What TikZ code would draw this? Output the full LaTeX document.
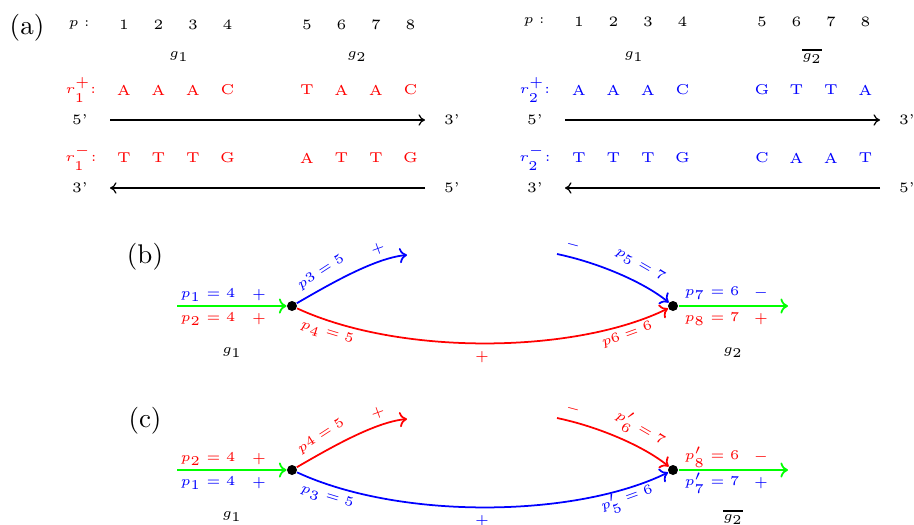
\documentclass[tikz,border=0pt]{standalone}
\usetikzlibrary{arrows.meta}
\tikzstyle{every node}=[font=\fontsize{5.3}{6}\selectfont]
\tikzstyle{strand}=[-{To[length=2.4pt,width=4.2pt]}, line width=0.45pt]
\tikzstyle{path}=[-{To[length=2.8pt,width=5.6pt]}, line width=0.65pt]
\tikzstyle{tag}=[font=\normalsize]
\tikzstyle{dot}=[circle, fill=black, inner sep=0pt, minimum size=3.7pt]

\begin{document}
\begin{tikzpicture}[x=0.3704pt, y=-0.3704pt]
    \useasboundingbox (0,0) rectangle (914,524);
% (a) read r1
    \node[tag] (ta) at (27,28) {(a)};
    \node (pa) at (79,25) {$p:$};
    \node (pa1) at (124,25) {1};
    \node (pa2) at (158.5,25) {2};
    \node (pa3) at (193,25) {3};
    \node (pa4) at (227.5,25) {4};
    \node (pa5) at (307,25) {5};
    \node (pa6) at (341.5,25) {6};
    \node (pa7) at (376,25) {7};
    \node (pa8) at (410.5,25) {8};
    \node (ga1) at (179,57) {$g_1$};
    \node (ga2) at (357,57) {$g_2$};
    \node[red] (rap) at (81,90) {$r_1^+$:};
    \node[red] (rap1) at (124,90) {A};
    \node[red] (rap2) at (158.5,90) {A};
    \node[red] (rap3) at (193,90) {A};
    \node[red] (rap4) at (227.5,90) {C};
    \node[red] (rap5) at (307,90) {T};
    \node[red] (rap6) at (341.5,90) {A};
    \node[red] (rap7) at (376,90) {A};
    \node[red] (rap8) at (410.5,90) {C};
    \node (fa1) at (80,120) {5'};
    \node (ta1) at (452,120) {3'};
    \coordinate (sa1) at (110,120);
    \coordinate (ea1) at (425,120);
    \draw[strand] (sa1) -- (ea1);
    \node[red] (ram) at (81,158) {$r_1^-$:};
    \node[red] (ram1) at (124,158) {T};
    \node[red] (ram2) at (158.5,158) {T};
    \node[red] (ram3) at (193,158) {T};
    \node[red] (ram4) at (227.5,158) {G};
    \node[red] (ram5) at (307,158) {A};
    \node[red] (ram6) at (341.5,158) {T};
    \node[red] (ram7) at (376,158) {T};
    \node[red] (ram8) at (410.5,158) {G};
    \node (ta2) at (80,188) {3'};
    \node (fa2) at (452,188) {5'};
    \coordinate (sa2) at (425,188);
    \coordinate (ea2) at (110,188);
    \draw[strand] (sa2) -- (ea2);
% (a) read r2
    \node (pb) at (534,22) {$p:$};
    \node (pb1) at (579,22) {1};
    \node (pb2) at (613.5,22) {2};
    \node (pb3) at (648,22) {3};
    \node (pb4) at (682.5,22) {4};
    \node (pb5) at (762,22) {5};
    \node (pb6) at (796.5,22) {6};
    \node (pb7) at (831,22) {7};
    \node (pb8) at (865.5,22) {8};
    \node (gb1) at (634,57) {$g_1$};
    \node (gb2) at (812,56) {$\overline{g_2}$};
    \node[blue] (rbp) at (535,90) {$r_2^+$:};
    \node[blue] (rbp1) at (579,90) {A};
    \node[blue] (rbp2) at (613.5,90) {A};
    \node[blue] (rbp3) at (648,90) {A};
    \node[blue] (rbp4) at (682.5,90) {C};
    \node[blue] (rbp5) at (762,90) {G};
    \node[blue] (rbp6) at (796.5,90) {T};
    \node[blue] (rbp7) at (831,90) {T};
    \node[blue] (rbp8) at (865.5,90) {A};
    \node (fb1) at (535,120) {5'};
    \node (tb1) at (907,120) {3'};
    \coordinate (sb1) at (565,120);
    \coordinate (eb1) at (880,120);
    \draw[strand] (sb1) -- (eb1);
    \node[blue] (rbm) at (535,158) {$r_2^-$:};
    \node[blue] (rbm1) at (579,158) {T};
    \node[blue] (rbm2) at (613.5,158) {T};
    \node[blue] (rbm3) at (648,158) {T};
    \node[blue] (rbm4) at (682.5,158) {G};
    \node[blue] (rbm5) at (762,158) {C};
    \node[blue] (rbm6) at (796.5,158) {A};
    \node[blue] (rbm7) at (831,158) {A};
    \node[blue] (rbm8) at (865.5,158) {T};
    \node (tb2) at (535,188) {3'};
    \node (fb2) at (907,188) {5'};
    \coordinate (sb2) at (880,188);
    \coordinate (eb2) at (565,188);
    \draw[strand] (sb2) -- (eb2);
% (b) junctions
    \node[tag] (tb) at (145,257) {(b)};
    \node[dot] (jb1) at (292,306) {};
    \node[dot] (jb2) at (673,306) {};
    \coordinate (inb) at (177,306);
    \coordinate (outb) at (788,306);
    \coordinate (upb1) at (407,255);
    \coordinate (upb2) at (557,254);
    \draw[path, green] (inb) -- (jb1);
    \draw[path, green] (jb2) -- (outb);
    \draw[path, blue] (jb1) .. controls (330,284) and (375,258) .. (upb1);
    \draw[path, red] (jb1) .. controls (400,356) and (575,354) .. (jb2);
    \draw[path, blue] (upb2) .. controls (600,263) and (645,283) .. (jb2);
    \node[blue] (lb1) at (208,295) {$p_1 = 4$};
    \node[blue] (sgb1) at (259,295) {$+$};
    \node[red] (lb2) at (208,319) {$p_2 = 4$};
    \node[red] (sgb2) at (259,319) {$+$};
    \node[blue, rotate=33] (lb3) at (321,272) {$p3 = 5$};
    \node[blue, rotate=20] (sgb3) at (378,249) {$+$};
    \node[red, rotate=-17] (lb4) at (327,333) {$p_4 = 5$};
    \node[red] (sgb4) at (482,357) {$+$};
    \node[blue, rotate=-15] (sgb5) at (573,245) {$-$};
    \node[blue, rotate=-30] (lb5) at (640,265) {$p_5 = 7$};
    \node[red, rotate=20] (lb6) at (627,335) {$p6 = 6$};
    \node[blue] (lb7) at (712,293) {$p_7 = 6$};
    \node[blue] (sgb7) at (761,293) {$-$};
    \node[red] (lb8) at (712,319) {$p_8 = 7$};
    \node[red] (sgb8) at (761,319) {$+$};
    \node (gbl) at (232,353) {$g_1$};
    \node (gbr) at (733,353) {$g_2$};
% (c) junctions
    \node[tag] (tc) at (145,421) {(c)};
    \node[dot] (jc1) at (292,470) {};
    \node[dot] (jc2) at (673,470) {};
    \coordinate (inc) at (177,470);
    \coordinate (outc) at (788,470);
    \coordinate (upc1) at (407,419);
    \coordinate (upc2) at (557,418);
    \draw[path, green] (inc) -- (jc1);
    \draw[path, green] (jc2) -- (outc);
    \draw[path, red] (jc1) .. controls (330,448) and (375,422) .. (upc1);
    \draw[path, blue] (jc1) .. controls (400,520) and (575,518) .. (jc2);
    \draw[path, red] (upc2) .. controls (600,427) and (645,447) .. (jc2);
    \node[red] (lc2) at (208,459) {$p_2 = 4$};
    \node[red] (sgc2) at (259,459) {$+$};
    \node[blue] (lc1) at (208,483) {$p_1 = 4$};
    \node[blue] (sgc1) at (259,483) {$+$};
    \node[red, rotate=33] (lc4) at (321,436) {$p4 = 5$};
    \node[red, rotate=20] (sgc4) at (378,413) {$+$};
    \node[blue, rotate=-17] (lc3) at (327,497) {$p_3 = 5$};
    \node[blue] (sgc3) at (482,521) {$+$};
    \node[red, rotate=-15] (sgc6) at (573,409) {$-$};
    \node[red, rotate=-30] (lc6) at (640,429) {$p'_6 = 7$};
    \node[blue, rotate=20] (lc5) at (627,499) {$p'_5 = 6$};
    \node[red] (lc8) at (712,457) {$p'_8 = 6$};
    \node[red] (sgc8) at (761,457) {$-$};
    \node[blue] (lc7) at (712,483) {$p'_7 = 7$};
    \node[blue] (sgc7) at (761,483) {$+$};
    \node (gcl) at (232,517) {$g_1$};
    \node (gcr) at (733,517) {$\overline{g_2}$};
\end{tikzpicture}
\end{document}
